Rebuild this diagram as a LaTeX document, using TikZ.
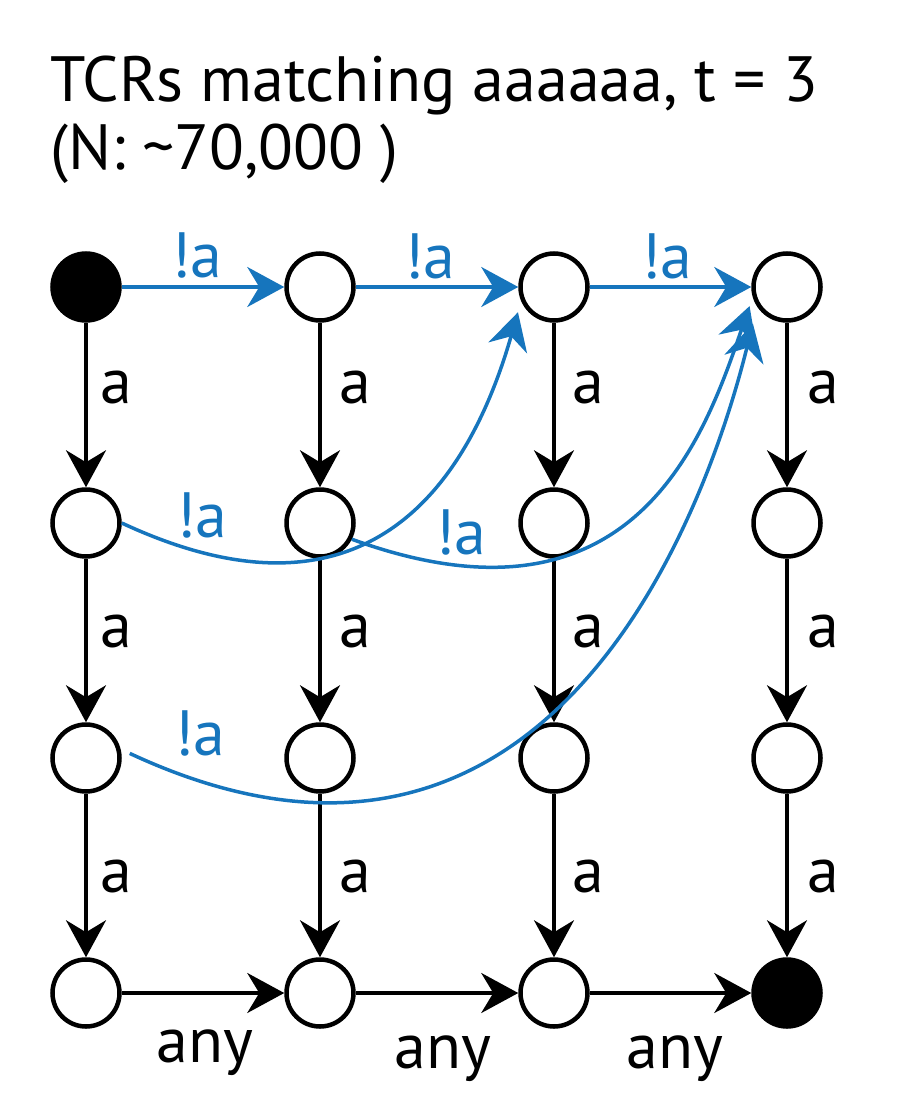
\documentclass[tikz,border=0pt]{standalone}
\usepackage{fontspec}
\setmainfont{PT Sans}
\usetikzlibrary{arrows.meta,calc}
\definecolor{tcrblue}{RGB}{22,117,189}
\begin{document}
\begin{tikzpicture}[x=1pt,y=1pt,
  st/.style={circle,draw,line width=4.5pt,minimum size=67pt,inner sep=0pt},
  fin/.style={st,fill=black},
  tip/.style={-{Stealth[length=37pt,width=40pt,inset=12pt]}},
  blk/.style={line width=3.5pt,tip},
  blu/.style={line width=3.5pt,tip,tcrblue},
  lab/.style={font=\fontsize{64}{70}\selectfont,anchor=base,inner sep=0pt},
  blab/.style={lab,text=tcrblue}]
\useasboundingbox (0,0) rectangle (905,-1115);
% title
\node[lab,anchor=base west] (t1) at (50,-102) {TCRs matching aaaaaa, t = 3};
\node[lab,anchor=base west] (t2) at (50,-170) {(N: \textasciitilde 70,000 )};
% states
\node[fin] (n00) at (86,-287) {};
\node[st]  (n01) at (320,-287) {};
\node[st]  (n02) at (554,-287) {};
\node[st]  (n03) at (787,-287) {};
\node[st]  (n10) at (86,-523) {};
\node[st]  (n11) at (320,-523) {};
\node[st]  (n12) at (554,-523) {};
\node[st]  (n13) at (787,-523) {};
\node[st]  (n20) at (86,-758) {};
\node[st]  (n21) at (320,-758) {};
\node[st]  (n22) at (554,-758) {};
\node[st]  (n23) at (787,-758) {};
\node[st]  (n30) at (86,-993) {};
\node[st]  (n31) at (320,-993) {};
\node[st]  (n32) at (554,-993) {};
\node[fin] (n33) at (787,-993) {};
% top row (blue)
\draw[blu] (n00) -- (n01);
\draw[blu] (n01) -- (n02);
\draw[blu] (n02) -- (n03);
\node[blab] (l1) at (197,-277) {!a};
\node[blab] (l2) at (430,-278) {!a};
\node[blab] (l3) at (667,-278) {!a};
% verticals
\foreach \c/\x in {0/116,1/355,2/588,3/823}{
  \draw[blk] (n0\c) -- (n1\c);
  \draw[blk] (n1\c) -- (n2\c);
  \draw[blk] (n2\c) -- (n3\c);
  \node[lab] (va\c) at (\x,-403) {a};
  \node[lab] (vb\c) at (\x,-647) {a};
  \node[lab] (vc\c) at (\x,-892) {a};
}
% bottom row
\draw[blk] (n30) -- (n31);
\draw[blk] (n31) -- (n32);
\draw[blk] (n32) -- (n33);
\node[lab] (b1) at (205,-1062) {any};
\node[lab] (b2) at (443,-1068) {any};
\node[lab] (b3) at (675,-1068) {any};
% skip curves
\draw[blu] (n10.east) .. controls +(-25:270) and +(-106:180) .. ($(n02)+(215:44)$);
\draw[blu] (n11.-27) .. controls +(-20:300) and +(-109:140) .. ($(n03)+(207:42)$);
\draw[blu] ($(n20)+(6:44)$) .. controls +(-25:450) and +(-104:220) .. ($(n03)+(227:50)$);
\node[blab] (c1) at (202,-537) {!a};
\node[blab] (c2) at (461,-554) {!a};
\node[blab] (c3) at (200,-755) {!a};
\end{tikzpicture}
\end{document}
